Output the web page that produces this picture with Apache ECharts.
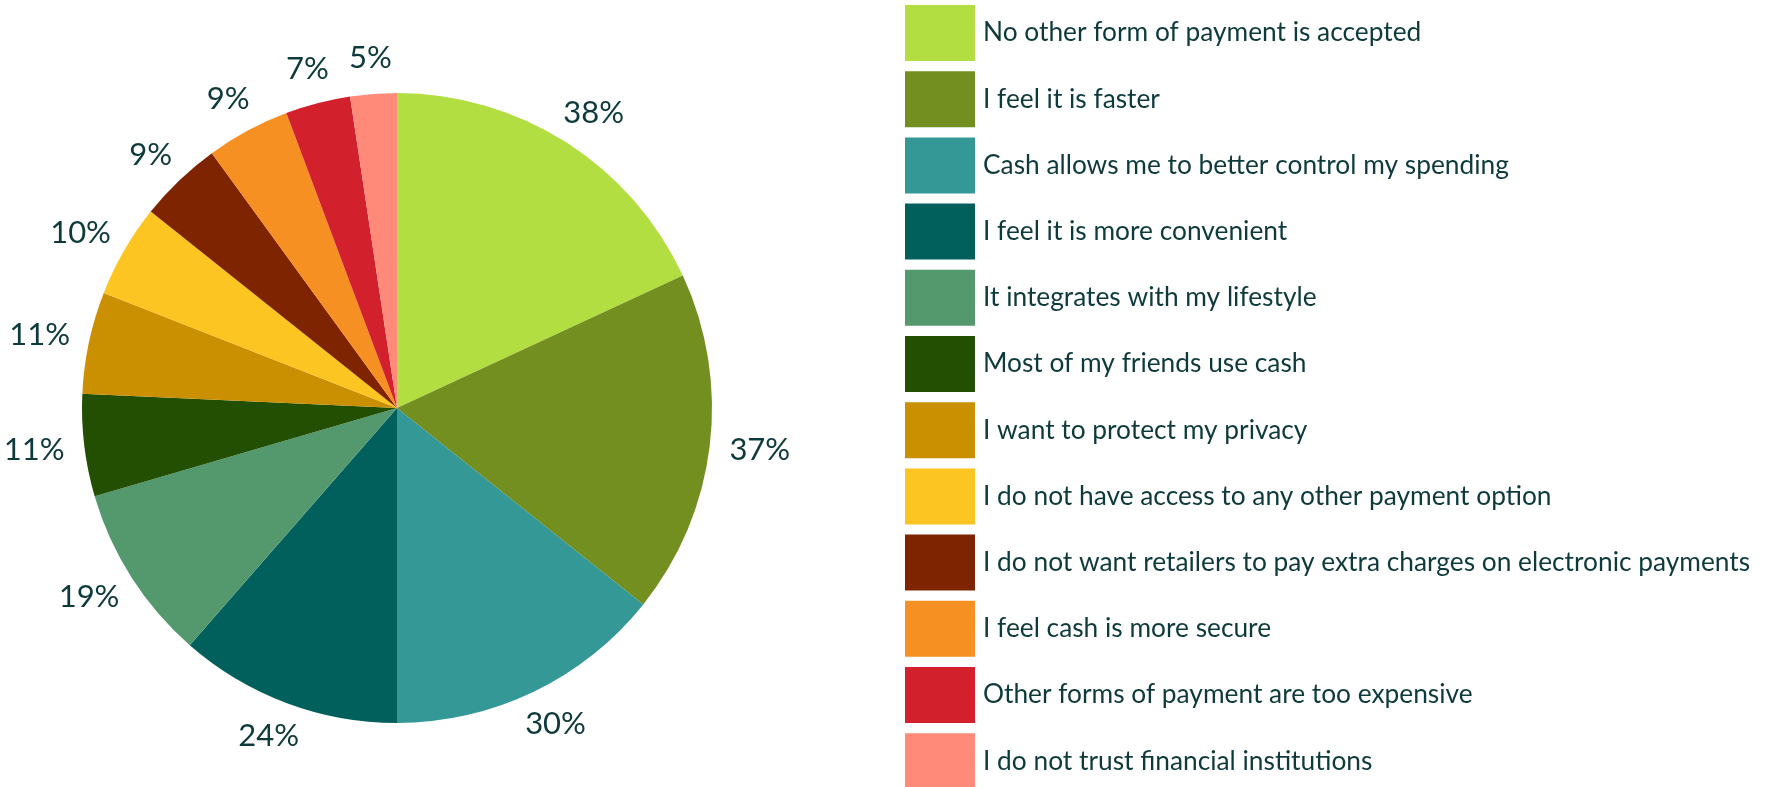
<!DOCTYPE html>
<html>
<head>
<meta charset="utf-8">
<script src="https://cdn.jsdelivr.net/npm/echarts@6/dist/echarts.min.js"></script>
<style>
  html, body { margin: 0; padding: 0; background: #ffffff; }
  #chart { width: 1777px; height: 787px; }
</style>
</head>
<body>
<div id="chart"></div>
<script>
// Reasons for paying with cash (multiple answers allowed)
const reasons = [
  'No other form of payment is accepted',
  'I feel it is faster',
  'Cash allows me to better control my spending',
  'I feel it is more convenient',
  'It integrates with my lifestyle',
  'Most of my friends use cash',
  'I want to protect my privacy',
  'I do not have access to any other payment option',
  'I do not want retailers to pay extra charges on electronic payments',
  'I feel cash is more secure',
  'Other forms of payment are too expensive',
  'I do not trust financial institutions'
];
const shares = [38, 37, 30, 24, 19, 11, 11, 10, 9, 9, 7, 5];
const sliceColors = [
  '#b2de42', '#728f1f', '#339896', '#02605c', '#54986d', '#224f02',
  '#ca9002', '#fcc521', '#7e2401', '#f79022', '#d2212d', '#ff8a7a'
];

const textColor = '#0e3a3b';
const fontFamily = 'Lato, "Open Sans", sans-serif';

const chart = echarts.init(document.getElementById('chart'), null, { renderer: 'canvas' });

// Push each percentage label outward so its box sits just off the rim,
// centred on the slice's mid direction (taken from the hidden guide line).
function placeLabel(params) {
  const pts = params.labelLinePoints;
  if (!pts || pts.length < 2) return {};
  let ux = pts[1][0] - pts[0][0];
  let uy = pts[1][1] - pts[0][1];
  const len = Math.hypot(ux, uy) || 1;
  ux /= len; uy /= len;
  const w = params.labelRect.width;
  const h = params.labelRect.height;
  return {
    x: pts[1][0] + ux * w / 2,
    y: pts[1][1] + uy * h / 2,
    align: 'center',
    verticalAlign: 'middle'
  };
}

chart.setOption({
  animation: false,
  color: sliceColors,
  legend: {
    orient: 'vertical',
    left: 905,
    top: 5,
    height: 900,
    padding: 0,
    itemWidth: 70,
    itemHeight: 56,
    itemGap: 10.2,
    icon: 'rect',
    selectedMode: false,
    textStyle: {
      color: textColor,
      fontFamily: fontFamily,
      fontSize: 26.3,
      padding: [4, 0, 0, 3]
    },
    data: reasons
  },
  series: [{
    type: 'pie',
    center: [397, 408],
    radius: 315,
    startAngle: 90,
    clockwise: true,
    avoidLabelOverlap: false,
    itemStyle: { borderWidth: 0 },
    label: {
      show: true,
      position: 'outside',
      distanceToLabelLine: 0,
      color: textColor,
      fontFamily: fontFamily,
      fontSize: 31,
      formatter: p => p.value + '%'
    },
    labelLine: { show: true, length: 20, length2: 0, lineStyle: { width: 0, opacity: 0 } },
    labelLayout: placeLabel,
    emphasis: { disabled: true },
    data: reasons.map((name, i) => ({ name: name, value: shares[i] }))
  }]
});
</script>
</body>
</html>
